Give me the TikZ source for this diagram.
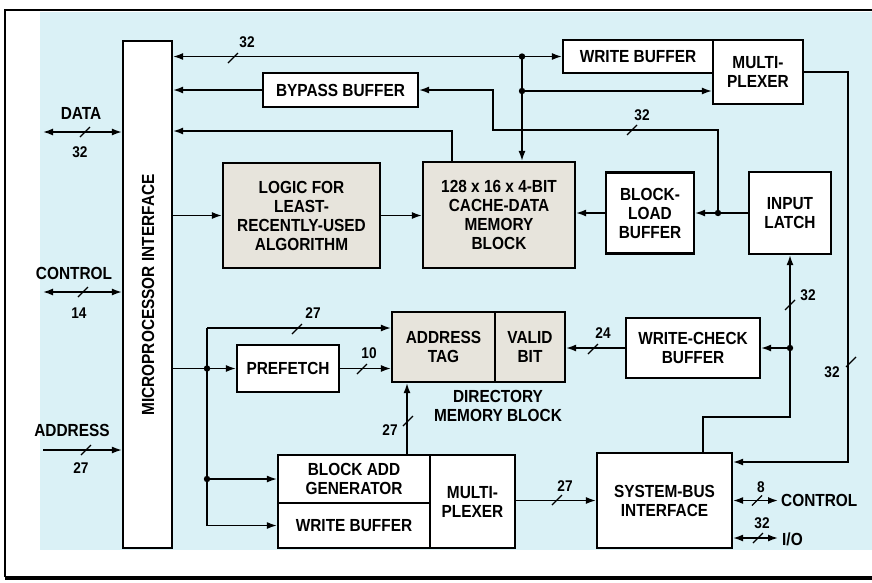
\documentclass[tikz,border=0pt]{standalone}
\usepackage{fontspec}
\setmainfont{Liberation Sans}[FakeStretch=0.88]
\usetikzlibrary{arrows.meta,calc}
\definecolor{bgblue}{RGB}{218,241,246}
\definecolor{boxgray}{RGB}{231,228,220}
\newcommand\lblfont{\fontsize{17.5}{19}\selectfont\bfseries}
\newcommand\numfont{\fontsize{15.5}{16}\selectfont\bfseries}
\tikzset{
  box/.style={draw,line width=2.2pt,fill=white,inner sep=0pt,align=center,font=\lblfont},
  graybox/.style={box,fill=boxgray},
  wire/.style={line width=1.5pt},
  arr/.style={wire,-{Latex[length=10pt,width=7pt]}},
  dbl/.style={wire,{Latex[length=10pt,width=7pt]}-{Latex[length=10pt,width=7pt]}},
  txt/.style={font=\lblfont,align=center,inner sep=0pt},
  num/.style={font=\numfont,inner sep=0pt},
  busmark/.pic={\draw[line width=1.3pt] (-5,5) -- (5,-5);},
}
\begin{document}
\begin{tikzpicture}[x=1pt,y=-1pt]
\useasboundingbox (0,0) rectangle (872,582);
% background and frame
\fill[white] (0,0) rectangle (872,582);
\fill[bgblue] (40,12) rectangle (872,550);
\draw[line width=2pt] (5,577) -- (5,10) -- (872,10);
\draw[line width=4pt] (5,578) -- (872,578);

% boxes
\node[box,minimum width=49,minimum height=507] (mpi) at (147.5,294.5) {};
\node[txt,rotate=90] (mpitxt) at (148,295) {MICROPROCESSOR INTERFACE};
\node[box,minimum width=155,minimum height=34] (bypass) at (340.5,90) {BYPASS BUFFER};
\node[box,minimum width=150,minimum height=33] (wbtop) at (638,56.5) {WRITE BUFFER};
\node[box,minimum width=90,minimum height=64] (muxtop) at (758,72) {MULTI-\\PLEXER};
\node[graybox,minimum width=157,minimum height=105] (lru) at (301.5,215.5) {LOGIC FOR\\LEAST-\\RECENTLY-USED\\ALGORITHM};
\node[graybox,minimum width=152,minimum height=106] (cache) at (499,215) {128 x 16 x 4-BIT\\CACHE-DATA\\MEMORY\\BLOCK};
\node[box,minimum width=88,minimum height=81] (blb) at (650,213) {BLOCK-\\LOAD\\BUFFER};
\node[box,minimum width=82,minimum height=82] (inlatch) at (790,213) {INPUT\\LATCH};
\node[graybox,minimum width=103,minimum height=70] (tag) at (443.5,347) {ADDRESS\\TAG};
\node[graybox,minimum width=70,minimum height=70] (valid) at (530,347) {VALID\\BIT};
\node[txt] (dircap) at (498,406) {DIRECTORY\\MEMORY BLOCK};
\node[box,minimum width=134,minimum height=60] (wcb) at (693,348) {WRITE-CHECK\\BUFFER};
\node[box,minimum width=102,minimum height=47] (prefetch) at (288,368.5) {PREFETCH};
\node[box,minimum width=152,minimum height=48] (bag) at (354,479) {BLOCK ADD\\GENERATOR};
\node[box,minimum width=152,minimum height=45] (wbbot) at (354,525.5) {WRITE BUFFER};
\node[box,minimum width=85,minimum height=93] (muxbot) at (472.5,501.5) {MULTI-\\PLEXER};
\node[box,minimum width=135,minimum height=95] (sbi) at (664.5,500.5) {SYSTEM-BUS\\INTERFACE};

% left external buses
\coordinate (dataL) at (43,132);
\coordinate (ctrlL) at (43,292);
\coordinate (addrL) at (43,450);
\draw[dbl] (dataL) -- (dataL -| mpi.west);
\draw[dbl] (ctrlL) -- (ctrlL -| mpi.west);
\draw[arr] (addrL) -- (addrL -| mpi.west);
\pic at (85,132) {busmark};
\pic at (83,292) {busmark};
\pic at (86,450) {busmark};
\node[txt] (ldata) at (81,113) {DATA};
\node[num] (ndata) at (80,152) {32};
\node[txt] (lctrl) at (74,273) {CONTROL};
\node[num] (nctrl) at (79,313) {14};
\node[txt] (laddr) at (72,430) {ADDRESS};
\node[num] (naddr) at (81,468) {27};

% top data bus
\coordinate (j1) at (522,56.5);
\coordinate (j2) at (522,91);
\draw[dbl] (j1 -| mpi.east) -- (wbtop.west);
\draw[arr] (j1) -- (j1 |- cache.north);
\draw[arr] (j2) -- (j2 -| muxtop.west);
\fill (j1) circle (3.2);
\fill (j2) circle (3.2);
\pic at (233,58) {busmark};
\node[num] (ntop) at (247,42) {32};

% multiplexer to system bus
\coordinate (rr) at (848,462);
\draw[arr] (muxtop.east) -| (rr) -- (rr -| sbi.east);
\pic at (851,362) {busmark};
\node[num] (nright) at (832,372) {32};

% input latch / block load / bypass
\coordinate (j3) at (718,213);
\coordinate (c1) at (493,130);
\draw[arr] (inlatch.west) -- (blb.east);
\draw[arr] (j3) |- (c1) |- (bypass.east);
\fill (j3) circle (3.2);
\pic at (632,130) {busmark};
\node[num] (nbyp) at (642,115) {32};
\draw[arr] (blb.west) -- (blb.west -| cache.east);
\draw[arr] (bypass.west) -- (bypass.west -| mpi.east);
\coordinate (c2) at (452,131);
\draw[arr] (c2 |- cache.north) -- (c2) -- (c2 -| mpi.east);
\draw[arr] (mpi.east |- lru.west) -- (lru.west);
\draw[arr] (lru.east) -- (lru.east -| cache.west);

% system bus to input latch and write-check
\coordinate (c3) at (703,417);
\draw[arr] (c3 |- sbi.north) -- (c3) -| (inlatch.south);
\coordinate (j4) at (inlatch.south |- wcb.east);
\draw[arr] (j4) -- (wcb.east);
\fill (j4) circle (3.2);
\pic at (790,305) {busmark};
\node[num] (nlatch) at (808,295) {32};
\draw[arr] (wcb.west) -- (wcb.west -| valid.east);
\pic at (593,349) {busmark};
\node[num] (nwcb) at (603,333) {24};

% address paths
\coordinate (j5) at (207,368.5);
\coordinate (c4) at (207,328);
\coordinate (c5) at (c4 |- wbbot.west);
\coordinate (j6) at (c4 |- bag.west);
\draw[wire] (j5 -| mpi.east) -- (j5);
\draw[arr] (j5) -- (prefetch.west);
\draw[wire] (c4) -- (c5);
\draw[arr] (c4) -- (c4 -| tag.west);
\draw[arr] (c5) -- (wbbot.west);
\draw[arr] (j6) -- (bag.west);
\fill (j5) circle (3.2);
\fill (j6) circle (3.2);
\pic at (297,329) {busmark};
\node[num] (ntag) at (313,313) {27};
\draw[arr] (prefetch.east) -- (prefetch.east -| tag.west);
\pic at (362,369) {busmark};
\node[num] (npre) at (369,353) {10};
\draw[arr] ([xshift=53]bag.north) -- ([xshift=53]bag.north |- tag.south);
\pic at (408,421) {busmark};
\node[num] (nbag) at (390,430) {27};
\draw[arr] (muxbot.east |- sbi.west) -- (sbi.west);
\pic at (557,500) {busmark};
\node[num] (nmux) at (565,486) {27};

% right external buses
\coordinate (cr) at (778,500.5);
\coordinate (io) at (778,538);
\draw[dbl] (sbi.east |- cr) -- (cr);
\draw[dbl] (sbi.east |- io) -- (io);
\pic at (757,500.5) {busmark};
\pic at (758,538) {busmark};
\node[num] (nctl2) at (761,487) {8};
\node[num] (nio) at (762,523) {32};
\node[txt,anchor=west] (lctl2) at (781,500.5) {CONTROL};
\node[txt,anchor=west] (lio) at (782,539) {I/O};
\end{tikzpicture}
\end{document}
